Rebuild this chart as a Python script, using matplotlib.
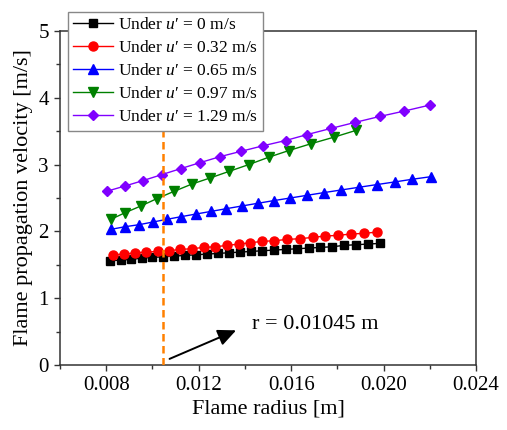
import numpy as np
import matplotlib
matplotlib.use('Agg')
import matplotlib.pyplot as plt
from matplotlib.ticker import MultipleLocator

plt.rcParams['font.family'] = ['Liberation Serif', 'DejaVu Serif']
plt.rcParams['mathtext.fontset'] = 'custom'
plt.rcParams['mathtext.rm'] = 'Liberation Serif'
plt.rcParams['mathtext.it'] = 'Liberation Serif:italic'

# flame radius [m] and propagation velocity [m/s] for each turbulence level
r0 = [0.00817, 0.00863, 0.00908, 0.00954, 0.01000, 0.01045, 0.01094, 0.01142, 0.01190,
      0.01236, 0.01284, 0.01331, 0.01380, 0.01428, 0.01476, 0.01525, 0.01577, 0.01626,
      0.01676, 0.01727, 0.01778, 0.01828, 0.01880, 0.01932, 0.01984]
v0 = [1.56, 1.57, 1.58, 1.60, 1.61, 1.62, 1.63, 1.64, 1.65, 1.66, 1.67, 1.68, 1.69,
      1.70, 1.71, 1.72, 1.73, 1.74, 1.75, 1.76, 1.77, 1.79, 1.80, 1.81, 1.82]

r1 = [0.00828, 0.00879, 0.00926, 0.00974, 0.01024, 0.01071, 0.01121, 0.01171, 0.01221,
      0.01272, 0.01323, 0.01373, 0.01424, 0.01474, 0.01528, 0.01583, 0.01637, 0.01693,
      0.01747, 0.01802, 0.01857, 0.01915, 0.01973]
v1 = [1.65, 1.66, 1.68, 1.69, 1.70, 1.71, 1.73, 1.74, 1.76, 1.77, 1.79, 1.81, 1.83,
      1.85, 1.86, 1.88, 1.89, 1.91, 1.93, 1.94, 1.96, 1.97, 1.99]

r2 = [0.00820, 0.00882, 0.00942, 0.01002, 0.01062, 0.01124, 0.01189, 0.01255, 0.01320,
      0.01387, 0.01455, 0.01524, 0.01597, 0.01669, 0.01741, 0.01817, 0.01893, 0.01970,
      0.02048, 0.02124, 0.02207]
v2 = [2.03, 2.07, 2.10, 2.14, 2.18, 2.22, 2.26, 2.30, 2.34, 2.38, 2.42, 2.46, 2.50,
      2.54, 2.58, 2.62, 2.66, 2.70, 2.74, 2.78, 2.82]

r3 = [0.00820, 0.00882, 0.00950, 0.01019, 0.01094, 0.01172, 0.01250, 0.01333, 0.01417,
      0.01503, 0.01590, 0.01684, 0.01785, 0.01879]
v3 = [2.18, 2.28, 2.38, 2.49, 2.60, 2.71, 2.80, 2.90, 3.00, 3.11, 3.21, 3.31, 3.41, 3.51]

r4 = [0.00802, 0.00882, 0.00959, 0.01041, 0.01123, 0.01207, 0.01294, 0.01385, 0.01477,
      0.01576, 0.01670, 0.01771, 0.01875, 0.01983, 0.02088, 0.02199]
v4 = [2.60, 2.68, 2.76, 2.85, 2.94, 3.03, 3.12, 3.20, 3.28, 3.36, 3.45, 3.54, 3.63,
      3.72, 3.80, 3.89]

labels = ["Under $u$\u2032 = 0 m/s", "Under $u$\u2032 = 0.32 m/s", "Under $u$\u2032 = 0.65 m/s",
          "Under $u$\u2032 = 0.97 m/s", "Under $u$\u2032 = 1.29 m/s"]
r_crit = 0.01045

fig = plt.figure(figsize=(5.07, 4.30), dpi=100)
ax = fig.add_axes([0.1183, 0.1512, 0.8207, 0.7768])

ax.plot(r0, v0, '-s', color='black', lw=1, ms=5.5, label=labels[0])
ax.plot(r1, v1, '-o', color='#ff0000', lw=1, ms=6.5, label=labels[1])
ax.plot(r2, v2, '-^', color='#0000ff', lw=1, ms=6.5, label=labels[2])
ax.plot(r3, v3, '-v', color='#008000', lw=1, ms=6.5, label=labels[3])
ax.plot(r4, v4, '-D', color='#8000ff', lw=1, ms=5.5, label=labels[4])

ax.axvline(r_crit, color='#ff8000', lw=1.8, ls=(0, (3, 1.8)), zorder=5)
ax.annotate('', xy=(0.01373, 0.535), xytext=(0.01063, 0.075),
            arrowprops=dict(arrowstyle='-|>,head_length=1.1,head_width=0.5',
                            color='black', lw=1.4))
ax.text(0.0143, 0.6, 'r = 0.01045 m', fontsize=16, va='center', ha='left')

ax.set_xlim(0.006, 0.024)
ax.set_ylim(0, 5)
ax.xaxis.set_major_locator(MultipleLocator(0.004))
ax.xaxis.set_minor_locator(MultipleLocator(0.002))
ax.yaxis.set_major_locator(MultipleLocator(1))
ax.yaxis.set_minor_locator(MultipleLocator(0.5))
ax.set_xticks([0.008, 0.012, 0.016, 0.020, 0.024])
ax.set_xticklabels(['0.008', '0.012', '0.016', '0.020', '0.024'])
ax.tick_params(which='both', direction='out', labelsize=15, top=False, right=False,
               color='#333333')
ax.tick_params(which='major', length=4.5, width=1)
ax.tick_params(which='minor', length=3, width=1)
for s in ax.spines.values():
    s.set_color('#333333')
    s.set_linewidth(1.1)

ax.set_xlabel('Flame radius [m]', fontsize=16, labelpad=3)
ax.set_ylabel('Flame propagation velocity [m/s]', fontsize=16, labelpad=4)

leg = ax.legend(loc='upper left', bbox_to_anchor=(0.019, 1.058), borderaxespad=0,
                fontsize=12.5, frameon=True, fancybox=False, framealpha=1,
                edgecolor='#888888', handlelength=2.3, handletextpad=0.3,
                labelspacing=0.4, borderpad=0.3)
leg.get_frame().set_linewidth(1)
leg.set_zorder(10)

plt.savefig('out.png', dpi=100)
